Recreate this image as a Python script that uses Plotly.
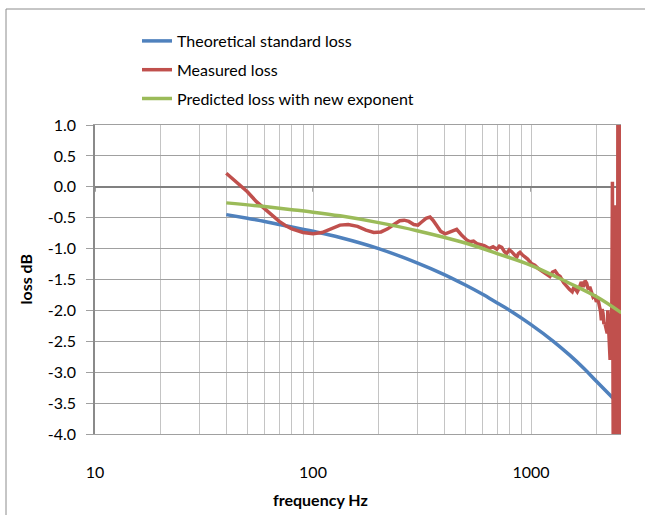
import plotly.graph_objects as go

# ---- data ----
x_major = [10, 100, 1000]
x_major_text = ["10", "100", "1000"]
x_minor = [20, 30, 40, 50, 60, 70, 80, 90, 200, 300, 400, 500, 600, 700, 800, 900, 2000]
y_ticks = [1.0, 0.5, 0.0, -0.5, -1.0, -1.5, -2.0, -2.5, -3.0, -3.5, -4.0]

theo_f = [40, 50, 60, 70, 80, 100, 133, 200, 300, 400, 500, 600, 700, 800, 1000,
          1266, 1500, 1750, 2000, 2380]
theo_v = [-0.45, -0.51, -0.56, -0.61, -0.65, -0.72, -0.82, -1.00, -1.23, -1.42, -1.59,
          -1.74, -1.88, -2.00, -2.23, -2.50, -2.72, -2.94, -3.15, -3.42]

pred_f = [40, 60, 80, 100, 133, 200, 300, 500, 700, 1000, 1500, 2000, 2600]
pred_v = [-0.26, -0.32, -0.37, -0.41, -0.47, -0.58, -0.71, -0.91, -1.08, -1.27, -1.56,
          -1.78, -2.04]

meas_f = [40, 45, 50, 55, 60, 65, 70, 75, 80, 90, 100, 110, 120, 133, 145, 160, 175,
          190, 205, 220, 235, 250, 262, 275, 290, 303, 315, 330, 344, 355, 370, 385,
          404, 430, 456, 480, 507, 525, 545, 565, 585, 610, 643, 670, 697, 715, 734,
          755, 773, 795, 815, 840, 860, 875, 890, 912, 935, 965, 1003, 1040, 1077,
          1115, 1157, 1190, 1221, 1255, 1290, 1325, 1360, 1410, 1460, 1500, 1545,
          1575, 1600, 1630, 1663, 1700, 1738, 1770, 1800, 1830, 1860, 1890, 1925,
          1960, 1994, 2030, 2065, 2085, 2103, 2120, 2140, 2160, 2180, 2210, 2236,
          2250, 2262, 2285, 2306, 2330, 2348, 2363, 2370, 2377, 2384, 2391, 2398,
          2405, 2412, 2419, 2426, 2433, 2440, 2447, 2454, 2461, 2468, 2475, 2482,
          2489, 2496, 2503, 2510, 2517, 2524, 2531, 2538, 2545, 2552, 2559, 2566,
          2573, 2580, 2587, 2594]
meas_v = [0.22, 0.06, -0.08, -0.24, -0.36, -0.47, -0.56, -0.63, -0.68, -0.74, -0.76,
          -0.74, -0.68, -0.62, -0.61, -0.64, -0.70, -0.74, -0.73, -0.68, -0.61, -0.55,
          -0.54, -0.56, -0.61, -0.62, -0.57, -0.51, -0.49, -0.54, -0.63, -0.72, -0.76,
          -0.73, -0.69, -0.78, -0.86, -0.89, -0.88, -0.92, -0.94, -0.95, -1.00, -0.97,
          -1.01, -0.96, -0.98, -1.05, -1.08, -1.02, -1.05, -1.10, -1.14, -1.08, -1.06,
          -1.10, -1.13, -1.17, -1.24, -1.27, -1.32, -1.36, -1.40, -1.43, -1.45, -1.38,
          -1.36, -1.42, -1.45, -1.55, -1.62, -1.66, -1.70, -1.62, -1.66, -1.70, -1.64,
          -1.54, -1.62, -1.52, -1.56, -1.66, -1.62, -1.70, -1.78, -1.75, -1.86, -1.82,
          -1.94, -2.02, -2.16, -1.98, -2.05, -2.22, -2.20, -2.30, -2.37, -2.00, -2.16,
          -2.40, -2.80, -2.20, -1.94, 0.08, -3.20, -1.80, -4.50, -1.90, -4.50, -2.10,
          -4.50, -1.80, -4.50, -0.30, -4.50, -2.00, -4.50, -1.70, -4.50, -2.00, -4.50,
          -1.80, -4.50, 1.50, -4.50, 1.50, -4.50, 1.50, -4.50, 1.50, -4.50, 1.50,
          -4.50, 1.50, -4.50, 1.50, -4.50]

series_names = ["Theoretical standard loss", "Measured loss",
                "Predicted loss with new exponent"]
series_colors = ["#4F81BD", "#C0504D", "#9BBB59"]

FONT = "Lato, 'Open Sans', sans-serif"

# plot area in pixels
W, H = 645, 515
L, R, T, B = 95, 621, 125, 434
PW, PH = R - L, B - T


def px_x(px):
    return (px - L) / PW


def px_y(py):
    return (B - py) / PH


fig = go.Figure()
for i, (f, v) in enumerate([(theo_f, theo_v), (meas_f, meas_v), (pred_f, pred_v)]):
    fig.add_trace(go.Scatter(
        x=f, y=v, mode="lines", name=series_names[i],
        line=dict(color=series_colors[i], width=3.5,
                  shape="spline" if i != 1 else "linear"),
        legendgroup=str(i),
    ))

fig.update_layout(
    width=W, height=H,
    margin=dict(l=L, r=W - R, t=T, b=H - B, autoexpand=False),
    paper_bgcolor="white", plot_bgcolor="white",
    font=dict(family=FONT, size=16, color="black"),
    showlegend=True,
    legend=dict(
        x=px_x(137), y=px_y(24), xanchor="left", yanchor="top",
        bgcolor="rgba(0,0,0,0)", font=dict(size=16, color="black"),
        itemwidth=30, tracegroupgap=5, traceorder="grouped",
    ),
    xaxis=dict(
        type="log", range=[1, 3.4128],
        tickvals=x_major, ticktext=x_major_text,
        showgrid=True, gridcolor="#c4c4c4", gridwidth=1,
        minor=dict(tickvals=x_minor, showgrid=True, gridcolor="#c4c4c4",
                   gridwidth=1, ticks=""),
        ticks="", showline=True, linecolor="#a0a0a0", linewidth=1, mirror=True,
        zeroline=False, ticklabelstandoff=24,
        tickfont=dict(size=16, color="black"),
    ),
    yaxis=dict(
        range=[-4, 1], tickvals=y_ticks,
        ticktext=[f"{v:.1f}" for v in y_ticks],
        showgrid=True, gridcolor="#a0a0a0", gridwidth=1,
        zeroline=True, zerolinecolor="#808080", zerolinewidth=1.5,
        ticks="outside", ticklen=7, tickcolor="#a0a0a0",
        showline=True, linecolor="#8a8a8a", linewidth=1.5,
        ticklabelstandoff=7,
        tickfont=dict(size=16, color="black"),
    ),
)

# axis titles
fig.add_annotation(x=px_x(320), y=px_y(500), xref="paper", yref="paper",
                   text="<b>frequency Hz</b>", showarrow=False,
                   font=dict(size=16, color="black"), xanchor="center", yanchor="middle")
fig.add_annotation(x=px_x(25), y=0.5, xref="paper", yref="paper",
                   text="<b>loss dB</b>", showarrow=False, textangle=-90,
                   font=dict(size=16, color="black"), xanchor="center", yanchor="middle")

# small tick marks hanging below the zero line at major x ticks
for xv in x_major:
    fig.add_shape(type="line", xref="x", yref="y", x0=xv, x1=xv, y0=0, y1=-0.08,
                  line=dict(color="#808080", width=1.5), layer="below")

# chart area border (left and top visible)
fig.add_shape(type="line", xref="paper", yref="paper",
              x0=px_x(6), x1=px_x(6), y0=px_y(9), y1=px_y(530),
              line=dict(color="#8c8c8c", width=1))
fig.add_shape(type="line", xref="paper", yref="paper",
              x0=px_x(6), x1=px_x(660), y0=px_y(9), y1=px_y(9),
              line=dict(color="#8c8c8c", width=1))

fig.write_html("out.html")
